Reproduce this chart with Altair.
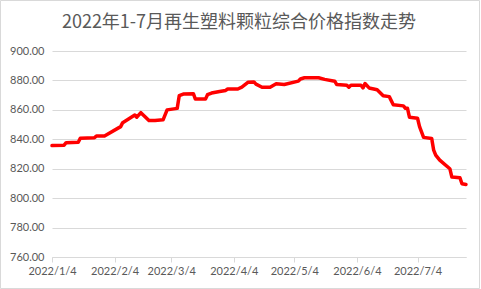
import altair as alt
import pandas as pd

dates = [
    "2022-01-04", "2022-01-10", "2022-01-11", "2022-01-17", "2022-01-18",
    "2022-01-25", "2022-01-26", "2022-01-30", "2022-02-07", "2022-02-08",
    "2022-02-14", "2022-02-15", "2022-02-17", "2022-02-21", "2022-02-24",
    "2022-02-28", "2022-03-02", "2022-03-07", "2022-03-08", "2022-03-10",
    "2022-03-15", "2022-03-16", "2022-03-21", "2022-03-22", "2022-03-24",
    "2022-03-28", "2022-03-31", "2022-04-01", "2022-04-06", "2022-04-08",
    "2022-04-11", "2022-04-14", "2022-04-15", "2022-04-18", "2022-04-22",
    "2022-04-25", "2022-04-29", "2022-05-06", "2022-05-07", "2022-05-09",
    "2022-05-16", "2022-05-19", "2022-05-24", "2022-05-25", "2022-05-30",
    "2022-05-31", "2022-06-01", "2022-06-06", "2022-06-07", "2022-06-08",
    "2022-06-10", "2022-06-14", "2022-06-17", "2022-06-20", "2022-06-22",
    "2022-06-27", "2022-06-28", "2022-06-29", "2022-06-30", "2022-07-04",
    "2022-07-05", "2022-07-07", "2022-07-11", "2022-07-12", "2022-07-13",
    "2022-07-15", "2022-07-20", "2022-07-21", "2022-07-25", "2022-07-26",
    "2022-07-28",
]
values = [
    835.7, 836.0, 837.7, 838.0, 840.7,
    841.0, 842.3, 842.3, 848.6, 851.3,
    856.5, 855.0, 858.1, 852.7, 852.7,
    853.2, 860.0, 861.0, 869.6, 870.7,
    871.0, 867.3, 867.3, 870.3, 871.4,
    872.5, 873.2, 874.2, 874.2, 875.5,
    878.7, 879.0, 877.5, 875.4, 875.4,
    877.7, 877.2, 879.5, 881.0, 881.8,
    881.8, 880.7, 879.5, 877.2, 876.7,
    875.4, 876.7, 876.7, 874.9, 877.9,
    874.9, 873.7, 869.6, 869.0, 863.4,
    862.7, 861.1, 861.1, 855.0, 854.3,
    848.6, 841.3, 840.6, 832.6, 829.2,
    825.8, 820.0, 814.3, 813.9, 809.8,
    809.3,
]
tick_months = [1, 2, 3, 4, 5, 6, 7]
y_ticks = [760, 780, 800, 820, 840, 860, 880, 900]
title_text = "2022年1-7月再生塑料颗粒综合价格指数走势"

df = pd.DataFrame({"date": dates, "value": values})

grey = "#595959"
gridc = "#d9d9d9"

line = alt.Chart(df).mark_line(
    color="#ff0000", strokeWidth=3.5, strokeJoin="round", strokeCap="round"
).encode(
    x=alt.X(
        "date:T",
        scale=alt.Scale(type="utc",
                        domain=[alt.DateTime(year=2022, month=1, date=4, utc=True),
                                alt.DateTime(year=2022, month=7, date=28, utc=True)]),
        axis=alt.Axis(
            title=None,
            values=[alt.DateTime(year=2022, month=m, date=4, utc=True) for m in tick_months],
            labelExpr="utcFormat(datum.value, '%Y/%-m/%-d')",
            grid=False,
            domainColor=gridc,
            tickColor=gridc,
            tickSize=5,
            labelPadding=3,
            labelColor=grey,
            labelFont="Lato",
            labelFontSize=11,
            labelAlign="center",
            labelFlush=False,
        ),
    ),
    y=alt.Y(
        "value:Q",
        scale=alt.Scale(domain=[760, 900], nice=False, zero=False),
        axis=alt.Axis(
            title=None,
            values=y_ticks,
            format=".2f",
            ticks=False,
            domain=False,
            gridColor=gridc,
            gridWidth=1,
            labelPadding=8,
            labelColor=grey,
            labelFont="Lato",
            labelFontSize=11,
        ),
    ),
)

frame = alt.Chart(alt.Data(values=[{}])).mark_rect(
    fill=None, stroke=gridc, strokeWidth=1
).encode(
    x=alt.value(-51.5), x2=alt.value(427.5),
    y=alt.value(-50.5), y2=alt.value(237.5),
)

title = alt.Chart(alt.Data(values=[{}])).mark_text(
    font="Noto Sans CJK SC", fontSize=18, color=grey,
    align="center", baseline="alphabetic",
).encode(
    x=alt.value(187), y=alt.value(-23), text=alt.value(title_text),
)

chart = alt.layer(frame, title, line).properties(
    width=414,
    height=206,
    padding={"left": 52, "top": 51, "right": 15, "bottom": 32},
    autosize=alt.AutoSizeParams(type="none"),
).configure_view(stroke=None)

chart.save("out.html", embed_options={"renderer": "svg", "actions": False})
